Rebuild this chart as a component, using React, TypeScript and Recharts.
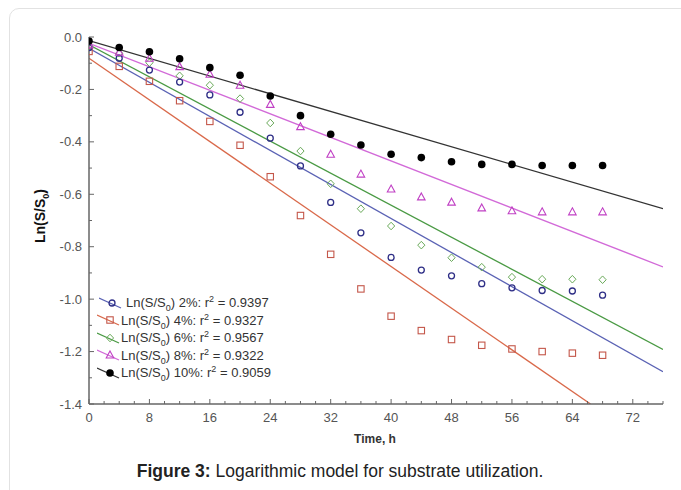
import React from 'react';
import { ComposedChart, Scatter, Line, XAxis, YAxis, Legend } from 'recharts';

const times = [0, 4, 8, 12, 16, 20, 24, 28, 32, 36, 40, 44, 48, 52, 56, 60, 64, 68];
const s2 = [-0.04, -0.081, -0.126, -0.172, -0.221, -0.287, -0.386, -0.492, -0.631, -0.747, -0.841, -0.889, -0.911, -0.941, -0.957, -0.967, -0.969, -0.985];
const s4 = [-0.055, -0.112, -0.169, -0.243, -0.322, -0.413, -0.533, -0.681, -0.829, -0.961, -1.065, -1.12, -1.154, -1.176, -1.19, -1.2, -1.206, -1.214];
const s6 = [-0.035, -0.062, -0.098, -0.148, -0.184, -0.235, -0.328, -0.435, -0.56, -0.655, -0.721, -0.794, -0.842, -0.878, -0.916, -0.924, -0.924, -0.926];
const s8 = [-0.03, -0.058, -0.081, -0.113, -0.142, -0.184, -0.257, -0.342, -0.447, -0.523, -0.58, -0.61, -0.63, -0.652, -0.663, -0.667, -0.667, -0.667];
const s10 = [-0.015, -0.04, -0.056, -0.083, -0.117, -0.146, -0.225, -0.3, -0.371, -0.412, -0.447, -0.46, -0.476, -0.486, -0.486, -0.49, -0.49, -0.49];

// fitted regression lines (endpoints)
const fit2 = [{ t: 0, v: -0.043 }, { t: 76, v: -1.277 }];
const fit4 = [{ t: 0, v: -0.081 }, { t: 66.4, v: -1.4 }];
const fit6 = [{ t: 0, v: -0.03 }, { t: 76, v: -1.192 }];
const fit8 = [{ t: 0, v: -0.024 }, { t: 76, v: -0.877 }];
const fit10 = [{ t: 0, v: -0.014 }, { t: 76, v: -0.655 }];

const xTicks = [0, 2, 4, 6, 8, 10, 12, 14, 16, 18, 20, 22, 24, 26, 28, 30, 32, 34, 36, 38, 40, 42, 44, 46, 48, 50, 52, 54, 56, 58, 60, 62, 64, 66, 68, 70, 72, 74, 76];
const yTicks = [-1.4, -1.3, -1.2, -1.1, -1.0, -0.9, -0.8, -0.7, -0.6, -0.5, -0.4, -0.3, -0.2, -0.1, 0.0];

const labels = ['2%', '4%', '6%', '8%', '10%'];
const r2 = ['0.9397', '0.9327', '0.9567', '0.9322', '0.9059'];

const toPts = (vals: number[]) => times.map((t, i) => ({ t, v: vals[i] }));

const C = {
  blueP: '#2e2e86', blueL: '#5a62b4',
  redP: '#c4574a', redL: '#d9694a',
  greenP: '#6aaa5a', greenL: '#4a9a44',
  pinkP: '#c040c4', pinkL: '#d26ad8',
  blackP: '#000', blackL: '#333',
};

const Circle = (p: any) => <circle cx={p.cx} cy={p.cy} r={3} fill="none" stroke={C.blueP} strokeWidth={1.3} />;
const Square = (p: any) => <rect x={p.cx - 3.2} y={p.cy - 3.2} width={6.4} height={6.4} fill="none" stroke={C.redP} strokeWidth={1.1} />;
const Diamond = (p: any) => (
  <path d={`M${p.cx},${p.cy - 3.8}L${p.cx + 3.6},${p.cy}L${p.cx},${p.cy + 3.8}L${p.cx - 3.6},${p.cy}Z`} fill="none" stroke={C.greenP} strokeWidth={1} />
);
const Tri = (p: any) => (
  <path d={`M${p.cx},${p.cy - 4}L${p.cx + 3.8},${p.cy + 3}L${p.cx - 3.8},${p.cy + 3}Z`} fill="none" stroke={C.pinkP} strokeWidth={1.1} />
);
const Dot = (p: any) => <circle cx={p.cx} cy={p.cy} r={3.8} fill={C.blackP} />;

const tickColor = '#555';
const frameColor = '#666';

const BottomTick = (p: any) => {
  const v = p.payload.value;
  const major = v % 8 === 0;
  return (
    <g>
      <line x1={p.x} x2={p.x} y1={p.y} y2={p.y - (major ? 5 : 3)} stroke={frameColor} />
      {major && (
        <text x={p.x} y={p.y + 18} textAnchor="middle" fontSize={13} fill={tickColor} fontFamily="Liberation Sans, Arial, sans-serif">
          {v}
        </text>
      )}
    </g>
  );
};
const TopTick = (p: any) => {
  const major = p.payload.value % 8 === 0;
  return <line x1={p.x} x2={p.x} y1={p.y} y2={p.y + (major ? 5 : 3)} stroke={frameColor} />;
};
const LeftTick = (p: any) => {
  const v = p.payload.value;
  const major = Math.round(v * 10) % 2 === 0;
  return (
    <g>
      <line x1={p.x} x2={p.x + (major ? 5 : 3)} y1={p.y} y2={p.y} stroke={frameColor} />
      {major && (
        <text x={p.x - 7} y={p.y + 4.5} textAnchor="end" fontSize={13} fill={tickColor} fontFamily="Liberation Sans, Arial, sans-serif">
          {v.toFixed(1)}
        </text>
      )}
    </g>
  );
};
const RightTick = (p: any) => {
  const major = Math.round(p.payload.value * 10) % 2 === 0;
  return <line x1={p.x} x2={p.x - (major ? 5 : 3)} y1={p.y} y2={p.y} stroke={frameColor} />;
};

const legendItems = [
  { key: 's2', line: C.blueL, marker: 'circle' },
  { key: 's4', line: C.redL, marker: 'square' },
  { key: 's6', line: C.greenL, marker: 'diamond' },
  { key: 's8', line: C.pinkL, marker: 'triangle' },
  { key: 's10', line: C.blackL, marker: 'dot' },
];

const LegendMarker = ({ kind }: { kind: string }) => {
  const cx = 13, cy = 7;
  const p = { cx, cy };
  if (kind === 'circle') return <Circle {...p} />;
  if (kind === 'square') return <Square {...p} />;
  if (kind === 'diamond') return <Diamond {...p} />;
  if (kind === 'triangle') return <Tri {...p} />;
  return <Dot {...p} />;
};

const LegendContent = () => (
  <div style={{ fontFamily: 'Liberation Sans, Arial, sans-serif', fontSize: 13, color: '#333' }}>
    {legendItems.map((it, i) => (
      <div key={it.key} style={{ display: 'flex', alignItems: 'center', height: 17.5, whiteSpace: 'nowrap' }}>
        <svg width={23} height={14} style={{ marginLeft: i === 0 ? 2 : 0 }}>
          <line x1={0} y1={2} x2={22} y2={12} stroke={it.line} strokeWidth={1.2} />
          <LegendMarker kind={it.marker} />
        </svg>
        <span style={{ marginLeft: i === 0 ? 4 : 1 }}>
          Ln(S/S<span style={{ fontSize: 9, verticalAlign: 'sub', lineHeight: 0 }}>0</span>) {labels[i]}: r
          <span style={{ fontSize: 9, verticalAlign: 'super', lineHeight: 0 }}>2</span> = {r2[i]}
        </span>
      </div>
    ))}
  </div>
);

export default function App() {
  return (
    <div style={{ position: 'absolute', left: 0, top: 0, width: 681, height: 490, overflow: 'hidden', background: '#fff' }}>
      <div style={{ position: 'absolute', left: 9, top: 8, width: 760, height: 560, border: '1px solid #e2e2e2', borderRadius: 10 }} />
      <div style={{ position: 'absolute', left: 0, top: 0 }}>
        <ComposedChart width={681} height={490} margin={{ top: 37, right: 18, bottom: 56, left: 29 }}>
          <XAxis
            dataKey="t"
            type="number"
            domain={[0, 76]}
            ticks={xTicks}
            interval={0}
            tickSize={0}
            tickMargin={0}
            tickLine={false}
            tick={<BottomTick />}
            height={30}
            axisLine={{ stroke: frameColor, strokeWidth: 1.5 }}
            allowDataOverflow
          />
          <XAxis
            xAxisId="top"
            orientation="top"
            type="number"
            domain={[0, 76]}
            ticks={xTicks}
            interval={0}
            tickSize={0}
            tickMargin={0}
            tickLine={false}
            tick={<TopTick />}
            height={0}
            axisLine={{ stroke: frameColor, strokeWidth: 1.2 }}
            allowDataOverflow
          />
          <YAxis
            dataKey="v"
            type="number"
            domain={[-1.4, 0]}
            ticks={yTicks}
            interval={0}
            tickSize={0}
            tickMargin={0}
            tickLine={false}
            tick={<LeftTick />}
            width={60}
            axisLine={{ stroke: frameColor, strokeWidth: 1.5 }}
            allowDataOverflow
          />
          <YAxis
            yAxisId="right"
            orientation="right"
            type="number"
            domain={[-1.4, 0]}
            ticks={yTicks}
            interval={0}
            tickSize={0}
            tickMargin={0}
            tickLine={false}
            tick={<RightTick />}
            width={0}
            axisLine={{ stroke: frameColor, strokeWidth: 1.5 }}
            allowDataOverflow
          />
          <Line data={fit10} dataKey="v" stroke={C.blackL} strokeWidth={1.3} dot={false} isAnimationActive={false} />
          <Line data={fit8} dataKey="v" stroke={C.pinkL} strokeWidth={1.4} dot={false} isAnimationActive={false} />
          <Line data={fit6} dataKey="v" stroke={C.greenL} strokeWidth={1.3} dot={false} isAnimationActive={false} />
          <Line data={fit2} dataKey="v" stroke={C.blueL} strokeWidth={1.3} dot={false} isAnimationActive={false} />
          <Line data={fit4} dataKey="v" stroke={C.redL} strokeWidth={1.3} dot={false} isAnimationActive={false} />
          <Scatter data={toPts(s4)} dataKey="v" shape={<Square />} isAnimationActive={false} />
          <Scatter data={toPts(s6)} dataKey="v" shape={<Diamond />} isAnimationActive={false} />
          <Scatter data={toPts(s2)} dataKey="v" shape={<Circle />} isAnimationActive={false} />
          <Scatter data={toPts(s8)} dataKey="v" shape={<Tri />} isAnimationActive={false} />
          <Scatter data={toPts(s10)} dataKey="v" shape={<Dot />} isAnimationActive={false} />
          <Legend
            layout="vertical"
            align="center"
            verticalAlign="middle"
            content={<LegendContent />}
            wrapperStyle={{ position: 'absolute', left: 97, top: 294, width: 220, height: 90 }}
          />
        </ComposedChart>
      </div>
      <div
        style={{
          position: 'absolute', left: 40, top: 216, transform: 'translate(-50%, -50%) rotate(-90deg)',
          fontFamily: 'Liberation Sans, Arial, sans-serif', fontWeight: 'bold', fontSize: 14, color: '#111', whiteSpace: 'nowrap',
        }}
      >
        Ln(S/S<span style={{ fontSize: 9, verticalAlign: 'sub', lineHeight: 0 }}>0</span>)
      </div>
      <div
        style={{
          position: 'absolute', left: 375, top: 439, transform: 'translate(-50%, -50%)',
          fontFamily: 'Liberation Sans, Arial, sans-serif', fontWeight: 'bold', fontSize: 12, color: '#333', whiteSpace: 'nowrap',
        }}
      >
        Time, h
      </div>
      <div
        style={{
          position: 'absolute', left: 340, top: 471, transform: 'translate(-50%, -50%)',
          fontFamily: 'Liberation Sans, Arial, sans-serif', fontSize: 17.5, color: '#222', whiteSpace: 'nowrap',
        }}
      >
        <b>Figure 3:</b> Logarithmic model for substrate utilization.
      </div>
    </div>
  );
}
